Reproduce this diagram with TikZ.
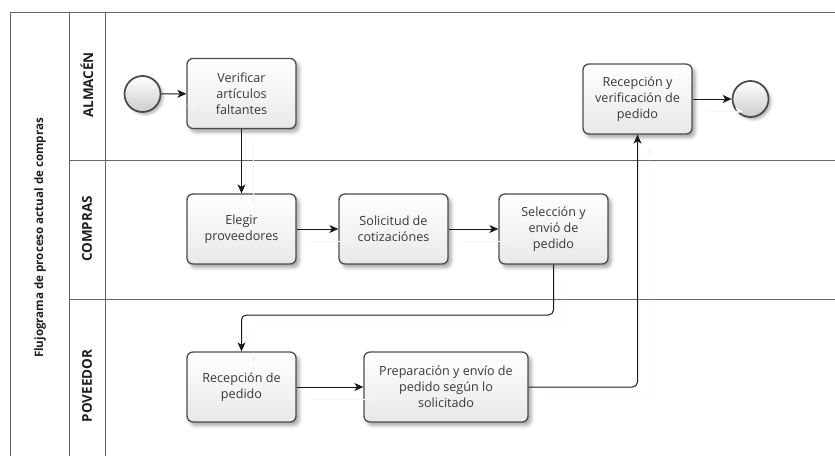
\documentclass[tikz,border=0pt]{standalone}
\usepackage{fontspec}
\setmainfont{Open Sans}
\usetikzlibrary{shadows.blur,arrows.meta}
\begin{document}
\begin{tikzpicture}[x=1pt,y=-1pt,
  task/.style={draw=black!70, line width=1.3pt, rounded corners=6pt,
    minimum width=109pt, minimum height=70pt, top color=white, bottom color=black!9,
    align=center, font=\fontsize{12.6}{16}\selectfont, text=black!78, inner sep=1pt,
    blur shadow={shadow xshift=3pt, shadow yshift=-3.5pt, shadow blur radius=3.5pt, shadow opacity=35}},
  ev/.style={circle, draw=black!72, line width=1.7pt, minimum size=36pt, inner sep=0pt,
    top color=white, bottom color=black!20,
    blur shadow={shadow xshift=2.5pt, shadow yshift=-2.5pt, shadow blur radius=2.5pt, shadow opacity=30}},
  conn/.style={draw=black!90, line width=1pt, rounded corners=5pt,
    -{Stealth[length=9pt,width=8pt,inset=2.5pt]},
    preaction={draw=black!4, transform canvas={shift={(12pt,-12pt)}}}},
  lane/.style={draw=black!60, line width=0.9pt},
  lbl/.style={font=\bfseries\fontsize{13.5}{15}\selectfont, rotate=90, text=black!88}
]
\useasboundingbox (0,0) rectangle (835,455);
% pool frame
\draw[lane] (10,462) -- (10,12) -- (840,12);
\draw[lane] (69,12) -- (69,462);
\draw[lane] (105,12) -- (105,462);
\draw[lane] (69,160) -- (840,160);
\draw[lane] (69,299) -- (840,299);
% labels
\node[lbl, font=\bfseries\fontsize{11.6}{13}\selectfont] (title) at (40,238) {Flujograma de proceso actual de compras};
\node[lbl] (l1) at (87,85) {ALMACÉN};
\node[lbl] (l2) at (87,229) {COMPRAS};
\node[lbl] (l3) at (87,386) {POVEEDOR};
% nodes
\node[ev] (start) at (142.5,94) {};
\node[task] (ver) at (241.5,93.5) {Verificar\\artículos\\faltantes};
\node[task] (eleg) at (241.5,229) {Elegir\\proveedores};
\node[task] (sol) at (393.5,229) {Solicitud de\\cotizaciónes};
\node[task] (sel) at (553.5,229) {Selección y\\envió de\\pedido};
\node[task] (recv) at (637.5,99) {Recepción y\\verificación de\\pedido};
\node[ev] (end) at (750.5,99) {};
\node[task] (recp) at (241.5,387) {Recepción de\\pedido};
\node[task, minimum width=164pt] (prep) at (446,387) {Preparación y envío de\\pedido según lo\\solicitado};
\coordinate (m1) at (553.5,315);
% connectors
\draw[conn] (start) -- (ver);
\draw[conn] (ver) -- (eleg);
\draw[conn] (eleg) -- (sol);
\draw[conn] (sol) -- (sel);
\draw[conn] (sel.south) -- (m1) -| (recp.north);
\draw[conn] (recp) -- (prep);
\draw[conn] (prep.east) -| (recv.south);
\draw[conn] (recv) -- (end);
\end{tikzpicture}
\end{document}
